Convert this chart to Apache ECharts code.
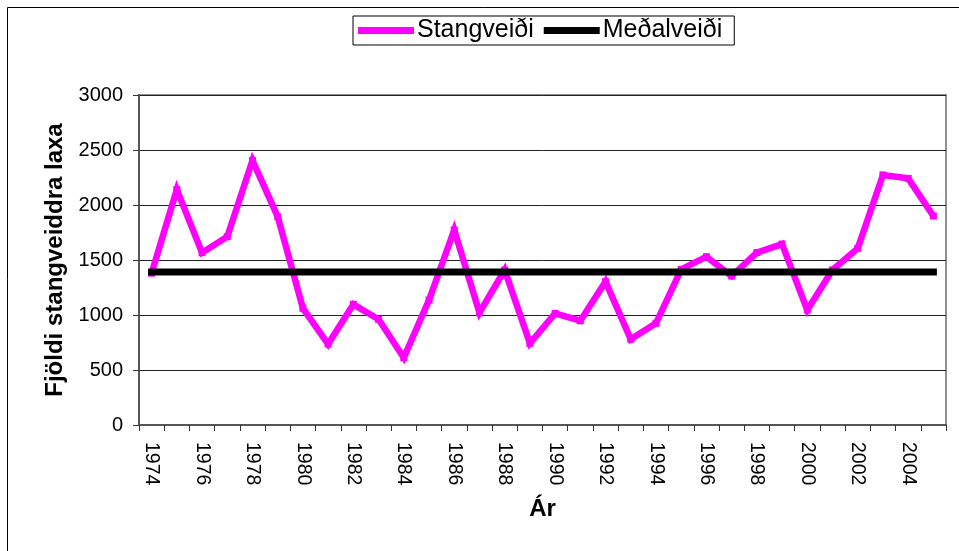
<!DOCTYPE html>
<html>
<head>
<meta charset="utf-8">
<script src="https://cdn.jsdelivr.net/npm/echarts@6/dist/echarts.min.js"></script>
<style>html,body{margin:0;padding:0;background:#fff;}#c{width:959px;height:551px;}</style>
</head>
<body>
<div id="c"></div>
<script>
const years = ['1974','1975','1976','1977','1978','1979','1980','1981','1982','1983','1984','1985','1986','1987','1988','1989','1990','1991','1992','1993','1994','1995','1996','1997','1998','1999','2000','2001','2002','2003','2004','2005'];
const stangveidi = [1380,2140,1567,1712,2405,1894,1061,736,1097,961,612,1136,1773,1021,1409,742,1015,948,1303,779,924,1415,1530,1354,1567,1645,1045,1409,1606,2273,2242,1900];
const medalveidi = [1390,1390,1390,1390,1390,1390,1390,1390,1390,1390,1390,1390,1390,1390,1390,1390,1390,1390,1390,1390,1390,1390,1390,1390,1390,1390,1390,1390,1390,1390,1390,1390];
const yTicks = { min: 0, max: 3000, interval: 500 };
const FONT = '"Liberation Sans", Arial, sans-serif';

const chart = echarts.init(document.getElementById('c'), null, { renderer: 'canvas' });
chart.setOption({
  animation: false,
  backgroundColor: '#fff',
  textStyle: { fontFamily: FONT, color: '#000' },
  graphic: [
    { type: 'rect', shape: { x: 7.5, y: 7.5, width: 1200, height: 1200 }, style: { fill: 'none', stroke: '#000', lineWidth: 1 }, silent: true, z: 0 }
  ],
  legend: {
    left: 353, top: 16,
    padding: [2, 12, 2, 5],
    itemGap: 10,
    itemWidth: 56, itemHeight: 7,
    icon: 'rect',
    backgroundColor: '#fff',
    borderColor: '#000', borderWidth: 1,
    textStyle: { fontFamily: FONT, fontSize: 25, color: '#000', padding: [0, 0, 0, -2] },
    data: ['Stangveiði', 'Meðalveiði']
  },
  grid: {
    left: 139, right: 13, top: 95, bottom: 126,
    show: true, borderColor: '#909090', borderWidth: 2, backgroundColor: '#fff'
  },
  xAxis: {
    type: 'category',
    data: years,
    boundaryGap: true,
    name: 'Ár',
    nameLocation: 'middle',
    nameGap: 72,
    nameTextStyle: { fontFamily: FONT, fontSize: 24, fontWeight: 'bold', color: '#000' },
    axisLine: { lineStyle: { color: '#555', width: 2 } },
    axisTick: { show: true, interval: 0, length: 6, lineStyle: { color: '#333', width: 1 } },
    axisLabel: { interval: 1, rotate: -90, margin: 17, fontSize: 19.5, color: '#000', fontFamily: FONT },
    splitLine: { show: false }
  },
  yAxis: {
    type: 'value',
    min: yTicks.min, max: yTicks.max, interval: yTicks.interval,
    name: 'Fjöldi stangveiddra laxa',
    nameLocation: 'middle',
    nameGap: 70,
    nameTextStyle: { fontFamily: FONT, fontSize: 24, fontWeight: 'bold', color: '#000' },
    axisLine: { show: true, lineStyle: { color: '#555', width: 2 } },
    axisTick: { show: true, length: 6, lineStyle: { color: '#333', width: 1 } },
    axisLabel: { margin: 16, fontSize: 20, color: '#000', fontFamily: FONT, formatter: function (v) { return String(v); } },
    splitLine: { show: true, lineStyle: { color: '#222', width: 1 } }
  },
  series: [
    {
      name: 'Stangveiði', type: 'line', data: stangveidi,
      color: '#FF00FF',
      symbol: 'rect', symbolSize: 7, showSymbol: true,
      itemStyle: { color: '#FF00FF' },
      lineStyle: { color: '#FF00FF', width: 6.5, join: 'miter' },
      z: 2
    },
    {
      name: 'Meðalveiði', type: 'line', data: medalveidi,
      color: '#000',
      symbol: 'none',
      lineStyle: { color: '#000', width: 7, cap: 'square' },
      z: 3
    }
  ]
});
</script>
</body>
</html>
